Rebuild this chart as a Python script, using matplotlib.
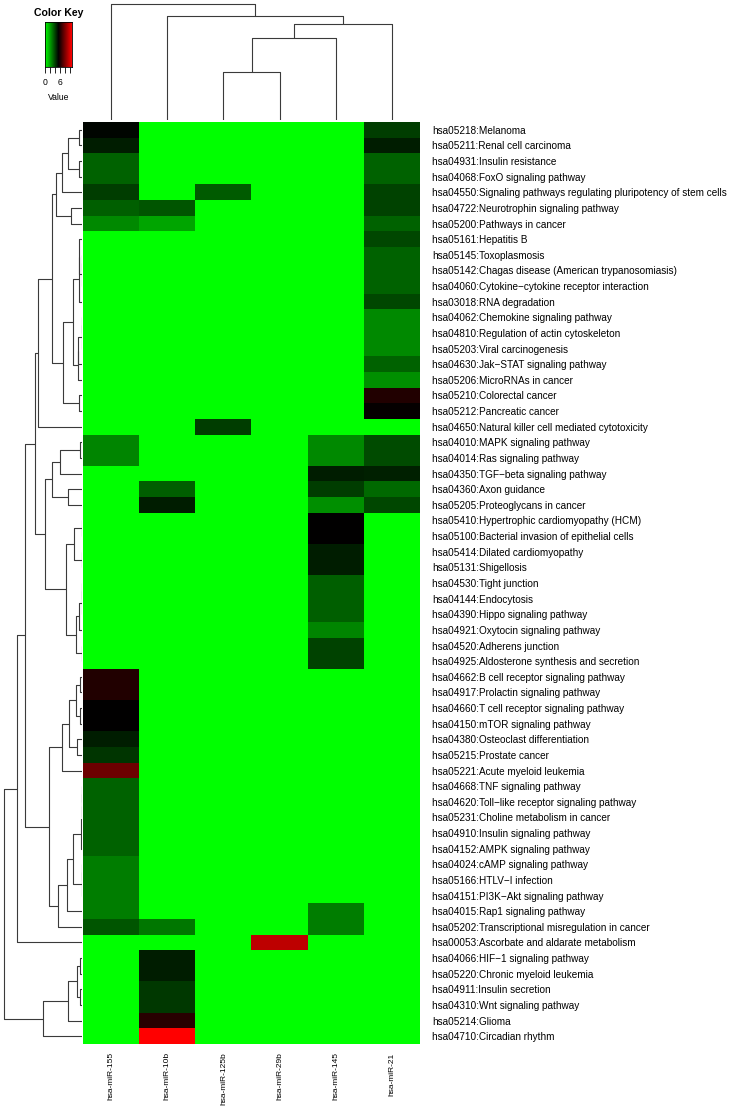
import matplotlib
matplotlib.use("Agg")
import matplotlib.pyplot as plt
import numpy as np
from matplotlib.colors import LinearSegmentedColormap

plt.rcParams["font.family"] = ["Liberation Sans", "DejaVu Sans"]

mirnas = ["hsa-miR-155", "hsa-miR-10b", "hsa-miR-125b", "hsa-miR-29b", "hsa-miR-145", "hsa-miR-21"]

pathways = [
    "hsa05218:Melanoma", "hsa05211:Renal cell carcinoma", "hsa04931:Insulin resistance",
    "hsa04068:FoxO signaling pathway",
    "hsa04550:Signaling pathways regulating pluripotency of stem cells",
    "hsa04722:Neurotrophin signaling pathway", "hsa05200:Pathways in cancer",
    "hsa05161:Hepatitis B", "hsa05145:Toxoplasmosis",
    "hsa05142:Chagas disease (American trypanosomiasis)",
    "hsa04060:Cytokine\u2212cytokine receptor interaction", "hsa03018:RNA degradation",
    "hsa04062:Chemokine signaling pathway", "hsa04810:Regulation of actin cytoskeleton",
    "hsa05203:Viral carcinogenesis", "hsa04630:Jak\u2212STAT signaling pathway",
    "hsa05206:MicroRNAs in cancer", "hsa05210:Colorectal cancer", "hsa05212:Pancreatic cancer",
    "hsa04650:Natural killer cell mediated cytotoxicity", "hsa04010:MAPK signaling pathway",
    "hsa04014:Ras signaling pathway", "hsa04350:TGF\u2212beta signaling pathway",
    "hsa04360:Axon guidance", "hsa05205:Proteoglycans in cancer",
    "hsa05410:Hypertrophic cardiomyopathy (HCM)",
    "hsa05100:Bacterial invasion of epithelial cells", "hsa05414:Dilated cardiomyopathy",
    "hsa05131:Shigellosis", "hsa04530:Tight junction", "hsa04144:Endocytosis",
    "hsa04390:Hippo signaling pathway", "hsa04921:Oxytocin signaling pathway",
    "hsa04520:Adherens junction", "hsa04925:Aldosterone synthesis and secretion",
    "hsa04662:B cell receptor signaling pathway", "hsa04917:Prolactin signaling pathway",
    "hsa04660:T cell receptor signaling pathway", "hsa04150:mTOR signaling pathway",
    "hsa04380:Osteoclast differentiation", "hsa05215:Prostate cancer",
    "hsa05221:Acute myeloid leukemia", "hsa04668:TNF signaling pathway",
    "hsa04620:Toll\u2212like receptor signaling pathway", "hsa05231:Choline metabolism in cancer",
    "hsa04910:Insulin signaling pathway", "hsa04152:AMPK signaling pathway",
    "hsa04024:cAMP signaling pathway", "hsa05166:HTLV\u2212I infection",
    "hsa04151:PI3K\u2212Akt signaling pathway", "hsa04015:Rap1 signaling pathway",
    "hsa05202:Transcriptional misregulation in cancer",
    "hsa00053:Ascorbate and aldarate metabolism", "hsa04066:HIF\u22121 signaling pathway",
    "hsa05220:Chronic myeloid leukemia", "hsa04911:Insulin secretion",
    "hsa04310:Wnt signaling pathway", "hsa05214:Glioma", "hsa04710:Circadian rhythm",
]

# values per miRNA, rows in the order shown (top to bottom)
mir155 = [5.3, 4.8, 3.3, 3.3, 4.1, 3.4, 2.5] + [0] * 13 + [2.6, 2.6] + [0] * 13 + \
         [6.1, 6.1, 5.4, 5.4, 4.8, 4.3, 7.7, 3.3, 3.3, 3.3, 3.3, 3.3, 2.75, 2.75, 2.75, 2.75, 3.6] + [0] * 7
mir10b = [0] * 5 + [3.6, 1.9] + [0] * 16 + [3.4, 4.8] + [0] * 26 + [2.9, 0, 4.8, 4.8, 4.2, 4.2, 6.25, 10.8]
mir125b = [0] * 4 + [3.5] + [0] * 14 + [4.1] + [0] * 39
mir29b = [0] * 52 + [9.4] + [0] * 6
mir145 = [0] * 20 + [2.5, 2.5, 4.8, 4.1, 2.4, 5.4, 5.4, 4.8, 4.8, 3.4, 3.4, 3.4, 2.6, 4.0, 4.0] + \
         [0] * 15 + [2.75, 2.75] + [0] * 7
mir21 = [4.1, 4.8, 3.3, 3.3, 4.0, 4.0, 3.3, 3.9, 3.3, 3.3, 3.3, 3.9, 2.5, 2.5, 2.5, 3.3, 2.4,
         6.1, 5.5, 0, 3.8, 3.8, 4.7, 3.2, 3.9] + [0] * 34

key_ticks = [0, 2, 4, 6, 8, 10]
key_labels = ["0", "", "", "6", "", ""]
vmax = 10.8

# dendrograms: (left, right, height); ints are leaves
col_tree = (0, (1, (((2, 3, 48), 4, 82), 5, 96), 104.3), 115.7)

grp_a = ((((0, 1, 3), (2, 3, 3), 13.7), 4, 20.3), (5, 6, 11.3), 26)
grp_b1 = ((7, ((8, 9, 0), 10, 0), 3), 11, 3.2)
grp_b2 = ((((12, 13, 0), 14, 0), 15, 4), 16, 4.5)
grp_b = ((grp_b1, grp_b2, 9.3), (17, 18, 3), 19.3)
grp_c1 = (((20, 21, 2), 22, 22), (23, 24, 13.7), 29.7)
grp_c2a = ((25, 26, 0.5), (27, 28, 0.5), 7.7)
grp_c2b = ((((29, 30, 0), 31, 0.5), 32, 3), (33, 34, 0.5), 6)
grp_c = (grp_c1, (grp_c2a, grp_c2b, 16.3), 37)
grp_d1 = ((((35, 36, 2), (37, 38, 2), 6.3), (39, 40, 4.7), 12.7), 41, 20.3)
grp_d2a = (((((42, 43, 0), 44, 0), 45, 0), 46, 1), ((47, 48, 0), 49, 0), 9.3)
grp_d2 = ((grp_d2a, 50, 15.3), 51, 23.7)
grp_d = (grp_d1, grp_d2, 33)
grp_e = ((((53, 54, 2), (55, 56, 2), 5.3), 57, 13.7), 58, 39.3)
top = (((grp_a, grp_b, 30.3), 19, 43.7), grp_c, 47)
row_tree = ((((top, grp_d, 57), 52, 65.3)), grp_e, 77.7)

data = np.array([mir155, mir10b, mir125b, mir29b, mir145, mir21]).T
cmap = LinearSegmentedColormap.from_list("greenred", ["#00ff00", "#000000", "#ff0000"])
line_col = "#3a3a3a"

W, H = 738, 1108
fig = plt.figure(figsize=(W / 100, H / 100), dpi=100)


def px_axes(x0, y0, x1, y1):
    return fig.add_axes([x0 / W, 1 - y1 / H, (x1 - x0) / W, (y1 - y0) / H])


def draw_tree(ax, node, vertical):
    if isinstance(node, int):
        return node, 0.0
    left, right, h = node
    pl, hl = draw_tree(ax, left, vertical)
    pr, hr = draw_tree(ax, right, vertical)
    xs = [pl, pl, pr, pr]
    ys = [hl, h, h, hr]
    if vertical:
        ax.plot(xs, ys, color=line_col, lw=0.8, solid_capstyle="butt")
    else:
        ax.plot(ys, xs, color=line_col, lw=0.8, solid_capstyle="butt")
    return (pl + pr) / 2, h


n_rows, n_cols = data.shape
hx0, hy0, hx1, hy1 = 83, 122, 420, 1044

ax = px_axes(hx0, hy0, hx1, hy1)
ax.imshow(data, aspect="auto", cmap=cmap, vmin=0, vmax=vmax, interpolation="nearest")
ax.set_xticks(range(n_cols))
ax.set_xticklabels(mirnas, rotation=90, fontsize=6)
ax.set_yticks(range(n_rows))
ax.set_yticklabels(pathways, fontsize=7.2)
ax.yaxis.tick_right()
ax.tick_params(axis="both", length=0)
ax.tick_params(axis="y", pad=9)
ax.tick_params(axis="x", pad=6)
for s in ax.spines.values():
    s.set_visible(False)

# row dendrogram
axr = px_axes(0, hy0, hx0 - 1, hy1)
draw_tree(axr, row_tree, vertical=False)
axr.set_xlim(82, 0)
axr.set_ylim(n_rows - 0.5, -0.5)
axr.axis("off")

# column dendrogram
axc = px_axes(hx0, 0, hx1, hy0 - 2)
draw_tree(axc, col_tree, vertical=True)
axc.set_xlim(-0.5, n_cols - 0.5)
axc.set_ylim(0, 120)
axc.axis("off")

# colour key
axk = px_axes(45, 22, 72, 67)
grad = np.linspace(0, vmax, 200)[None, :]
axk.imshow(grad, aspect="auto", cmap=cmap, vmin=0, vmax=vmax, extent=[0, vmax, 0, 1])
axk.set_yticks([])
axk.set_xticks(key_ticks)
axk.set_xticklabels(key_labels, fontsize=6.2)
axk.tick_params(axis="x", length=4, width=0.6, pad=4)
axk.set_xlabel("Value", fontsize=6.2, labelpad=4)
axk.set_title("Color Key", fontsize=7.6, fontweight="bold", pad=4)
for s in axk.spines.values():
    s.set_linewidth(0.6)

fig.savefig("out.png", dpi=100)
